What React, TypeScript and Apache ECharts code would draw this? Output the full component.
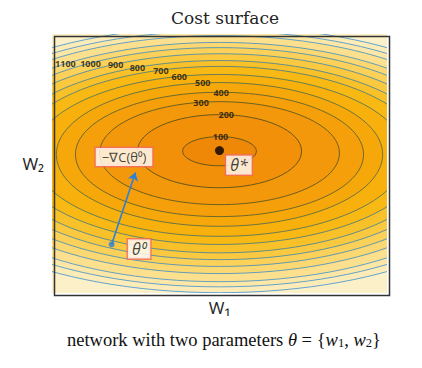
import React, { useEffect, useRef } from "react";
import * as echarts from "echarts";

// contour levels of the cost surface
const levels = [100, 200, 300, 400, 500, 600, 700, 800, 900, 1000, 1100, 1200, 1300, 1400];
// semi-axes (in w1 / w2 units) and vertical centre of each contour ellipse
const semiW = [1.1, 2.45, 3.58, 4.3, 4.87, 5.55, 6.12, 6.6, 7.07, 7.52, 7.94, 8.45, 8.84, 9.25];
const semiH = [0.45, 1.13, 1.59, 1.92, 2.22, 2.5, 2.75, 2.97, 3.18, 3.38, 3.57, 3.8, 3.95, 4.11];
const centerY = [-0.02, -0.02, -0.08, -0.12, -0.12, -0.15, -0.15, -0.19, -0.19, -0.2, -0.23, -0.25, -0.26, -0.28];
// labelled contours and the w1 position of their inline label
const labelLevels = [100, 200, 300, 400, 500, 600, 700, 800, 900, 1000, 1100];
const labelX = [0.03, 0.2, -0.55, 0.05, -0.5, -1.2, -1.75, -2.45, -3.1, -3.85, -4.6];
// points
const thetaStar = [0, 0];
const theta0 = [-3.22, -2.9];
const stepEnd = [-2.51, -0.68];
// annotation boxes (centre positions)
const gradBox = [-2.85, -0.2];
const starBox = [0.58, -0.45];
const zeroBox = [-2.4, -3.04];

const bandColors = [
  "#ef8806", "#f29009", "#f4980b", "#f5a00b", "#f6a80b", "#f7b00c", "#f8b914",
  "#f9c129", "#fac93f", "#fbd159", "#fcd873", "#fde08d", "#fde7a6", "#fdecb8",
];
const lineColors = [
  "rgba(70,72,30,0.8)", "rgba(70,72,30,0.8)", "rgba(70,78,36,0.78)", "rgba(64,86,52,0.75)",
  "rgba(56,96,80,0.72)", "rgba(48,104,110,0.72)", "rgba(44,112,140,0.72)", "rgba(42,120,170,0.72)",
  "rgba(40,126,190,0.72)", "rgba(40,130,200,0.72)", "rgba(40,132,205,0.72)", "rgba(40,134,210,0.72)",
  "rgba(40,134,210,0.72)", "rgba(40,134,210,0.72)",
];

export default function App() {
  const ref = useRef<HTMLDivElement>(null);
  useEffect(() => {
    if (!ref.current) return;
    const chart = echarts.init(ref.current, null, { renderer: "svg" });

    const ellipseData = levels
      .map((l, i) => [0, centerY[i], semiW[i], semiH[i], i])
      .reverse();

    const labelData = labelLevels.map((l, i) => {
      const x = labelX[i];
      const a = semiW[i];
      const b = semiH[i];
      const y = centerY[i] + b * Math.sqrt(Math.max(0, 1 - (x / a) * (x / a)));
      return { value: [x, y], name: String(l) };
    });

    const handFont = "Open Sans";

    chart.setOption({
      animation: false,
      backgroundColor: "#ffffff",
      title: [
        {
          text: "Cost surface",
          left: 166,
          top: 4,
          textStyle: { fontFamily: "DejaVu Serif", fontSize: 17, fontWeight: "normal", color: "#222" },
        },
        {
          text: "network with two parameters {i|θ} = {{i|w}{s|1}, {i|w}{s|2}}",
          left: 62,
          top: 325,
          textStyle: {
            fontFamily: "Liberation Serif",
            fontSize: 18.5,
            fontWeight: "normal",
            color: "#111",
            rich: {
              i: { fontFamily: "Liberation Serif", fontStyle: "italic", fontSize: 18.5, color: "#111" },
              s: { fontFamily: "Liberation Serif", fontSize: 12.5, color: "#111", padding: [6, 0, 0, 0] },
            },
          },
        },
      ],
      grid: { left: 52, top: 34, width: 335, height: 259, show: true, backgroundColor: "#fcf0c8", borderWidth: 0 },
      xAxis: {
        type: "value",
        min: -5,
        max: 5,
        name: "W₁",
        nameLocation: "middle",
        nameGap: 6,
        nameTextStyle: { fontFamily: handFont, fontSize: 17, color: "#222", verticalAlign: "top" },
        axisLine: { show: false },
        axisTick: { show: false },
        axisLabel: { show: false },
        splitLine: { show: false },
      },
      yAxis: {
        type: "value",
        min: -4.4,
        max: 3.6,
        name: "W₂",
        nameLocation: "middle",
        nameGap: 8,
        nameRotate: 0,
        nameTextStyle: { fontFamily: handFont, fontSize: 17, color: "#222" },
        axisLine: { show: false },
        axisTick: { show: false },
        axisLabel: { show: false },
        splitLine: { show: false },
      },
      graphic: [
        {
          type: "rect",
          left: 52,
          top: 34,
          z: 100,
          shape: { width: 335, height: 259 },
          style: { fill: "none", stroke: "#333", lineWidth: 1.5 },
        },
      ],
      series: [
        {
          type: "custom",
          coordinateSystem: "cartesian2d",
          encode: { x: 0, y: 1 },
          data: ellipseData,
          silent: true,
          z: 1,
          renderItem: (params: any, api: any) => {
            const idx = api.value(4);
            const c = api.coord([api.value(0), api.value(1)]);
            const s = api.size([api.value(2), api.value(3)]);
            const cs = params.coordSys;
            return {
              type: "group",
              clipPath: { type: "rect", shape: { x: cs.x, y: cs.y, width: cs.width, height: cs.height } },
              children: [
                {
                  type: "ellipse",
                  shape: { cx: c[0], cy: c[1], rx: s[0], ry: s[1] },
                  style: { fill: bandColors[idx], stroke: lineColors[idx], lineWidth: 1 },
                },
              ],
            };
          },
        },
        {
          type: "scatter",
          data: labelData,
          symbolSize: 1,
          itemStyle: { color: "rgba(0,0,0,0)" },
          z: 3,
          label: {
            show: true,
            position: "inside",
            formatter: (p: any) => p.name,
            fontFamily: handFont,
            fontSize: 9,
            lineHeight: 9,
            fontWeight: "bold",
            color: "#111",
          },
        },
        {
          type: "lines",
          coordinateSystem: "cartesian2d",
          z: 4,
          symbol: ["none", "arrow"],
          symbolSize: 8,
          lineStyle: { color: "#2d7fd8", width: 1.6, opacity: 1 },
          data: [{ coords: [theta0, stepEnd] }],
        },
        {
          type: "scatter",
          z: 5,
          data: [
            { value: thetaStar, symbolSize: 9, itemStyle: { color: "#000" } },
            { value: theta0, symbolSize: 6, itemStyle: { color: "#2d7fd8" } },
          ],
        },
        {
          type: "scatter",
          z: 6,
          symbolSize: 1,
          itemStyle: { color: "rgba(0,0,0,0)" },
          label: {
            show: true,
            position: "inside",
            formatter: (p: any) => p.name,
            backgroundColor: "#ffffff",
            borderColor: "#f26b5b",
            borderWidth: 1.5,
            color: "#111",
            fontFamily: handFont,
          },
          data: [
            { value: gradBox, name: "−∇C(θ⁰)", label: { fontSize: 13, padding: [3, 6, 2, 6] } },
            { value: starBox, name: "θ*", label: { fontSize: 16, fontStyle: "italic", padding: [2, 4, 1, 4] } },
            { value: zeroBox, name: "θ⁰", label: { fontSize: 16, fontStyle: "italic", padding: [2, 4, 1, 4] } },
          ],
        },
      ],
    });
    return () => chart.dispose();
  }, []);
  return <div ref={ref} style={{ position: "absolute", left: 0, top: 0, width: 422, height: 368 }} />;
}
